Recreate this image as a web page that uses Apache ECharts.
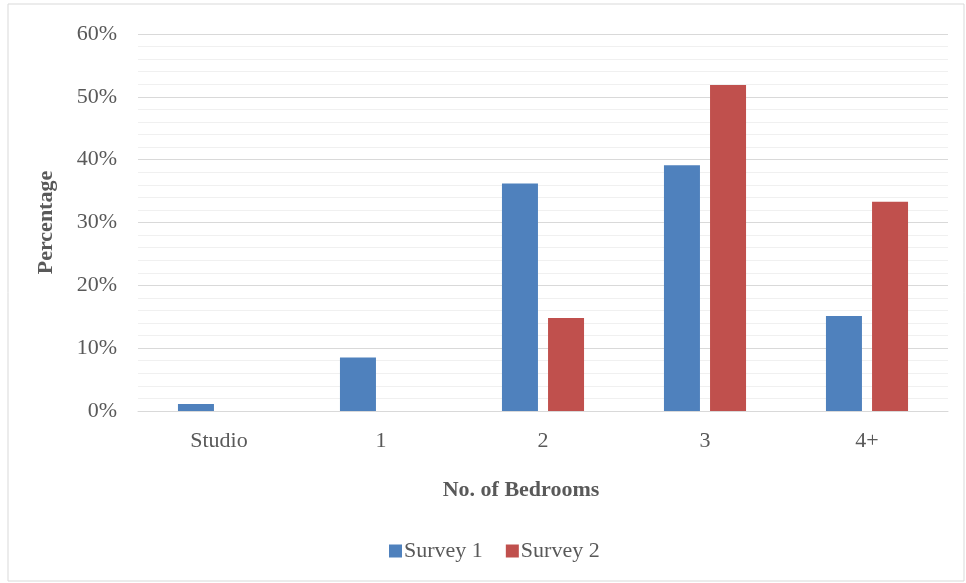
<!DOCTYPE html>
<html>
<head>
<meta charset="utf-8">
<script src="https://cdn.jsdelivr.net/npm/echarts@6/dist/echarts.min.js"></script>
<style>
  html, body { margin: 0; padding: 0; background: #fff; }
  #chart { width: 966px; height: 583px; }
</style>
</head>
<body>
<div id="chart"></div>
<script>
// Share of households by number of bedrooms, two surveys (percent)
const categories = ['Studio', '1', '2', '3', '4+'];
const survey1 = [1.1, 8.5, 36.2, 39.1, 15.1];
const survey2 = [0, 0, 14.8, 51.9, 33.3];
const seriesNames = ['Survey 1', 'Survey 2'];

const FONT = '"Liberation Serif", "Times New Roman", serif';
const TEXT = '#595959';

const chart = echarts.init(document.getElementById('chart'), null, { renderer: 'canvas' });

chart.setOption({
  backgroundColor: '#ffffff',
  animation: false,
  textStyle: { fontFamily: FONT },
  grid: { left: 138, right: 18, top: 34, bottom: 172, containLabel: false },
  legend: {
    data: seriesNames,
    left: 384,
    top: 535,
    icon: 'rect',
    itemWidth: 13,
    itemHeight: 13,
    itemGap: 23,
    textStyle: { fontFamily: FONT, fontSize: 22, color: TEXT, padding: [0, 0, 0, -3] }
  },
  xAxis: {
    type: 'category',
    data: categories,
    axisLine: { show: true, lineStyle: { color: '#d9d9d9', width: 1 } },
    axisTick: { show: false },
    axisLabel: { fontFamily: FONT, fontSize: 22, color: TEXT, margin: 19 }
  },
  yAxis: {
    type: 'value',
    min: 0,
    max: 60,
    interval: 10,
    name: 'Percentage',
    nameLocation: 'middle',
    nameRotate: 90,
    nameGap: 81,
    nameTextStyle: { fontFamily: FONT, fontSize: 22, fontWeight: 'bold', color: TEXT },
    axisLine: { show: false },
    axisTick: { show: false },
    axisLabel: { fontFamily: FONT, fontSize: 22, color: TEXT, margin: 21, formatter: '{value}%' },
    splitLine: { show: true, lineStyle: { color: '#d9d9d9', width: 1 } },
    minorTick: { show: false, splitNumber: 5 },
    minorSplitLine: { show: true, lineStyle: { color: '#f0f0f0', width: 1 } }
  },
  series: [
    {
      name: seriesNames[0],
      type: 'bar',
      data: survey1,
      barWidth: 36,
      barGap: '28%',
      itemStyle: { color: '#4f81bd' }
    },
    {
      name: seriesNames[1],
      type: 'bar',
      data: survey2,
      barWidth: 36,
      itemStyle: { color: '#c0504d' }
    }
  ],
  graphic: [
    {
      type: 'rect',
      shape: { x: 8, y: 4, width: 956, height: 577 },
      style: { fill: 'none', stroke: '#d9d9d9', lineWidth: 1 },
      silent: true,
      z: -1
    },
    {
      type: 'text',
      x: 521,
      y: 490,
      style: {
        text: 'No. of Bedrooms',
        fontFamily: FONT,
        fontSize: 22,
        fontWeight: 'bold',
        fill: TEXT,
        align: 'center',
        verticalAlign: 'middle'
      }
    }
  ]
});
</script>
</body>
</html>
